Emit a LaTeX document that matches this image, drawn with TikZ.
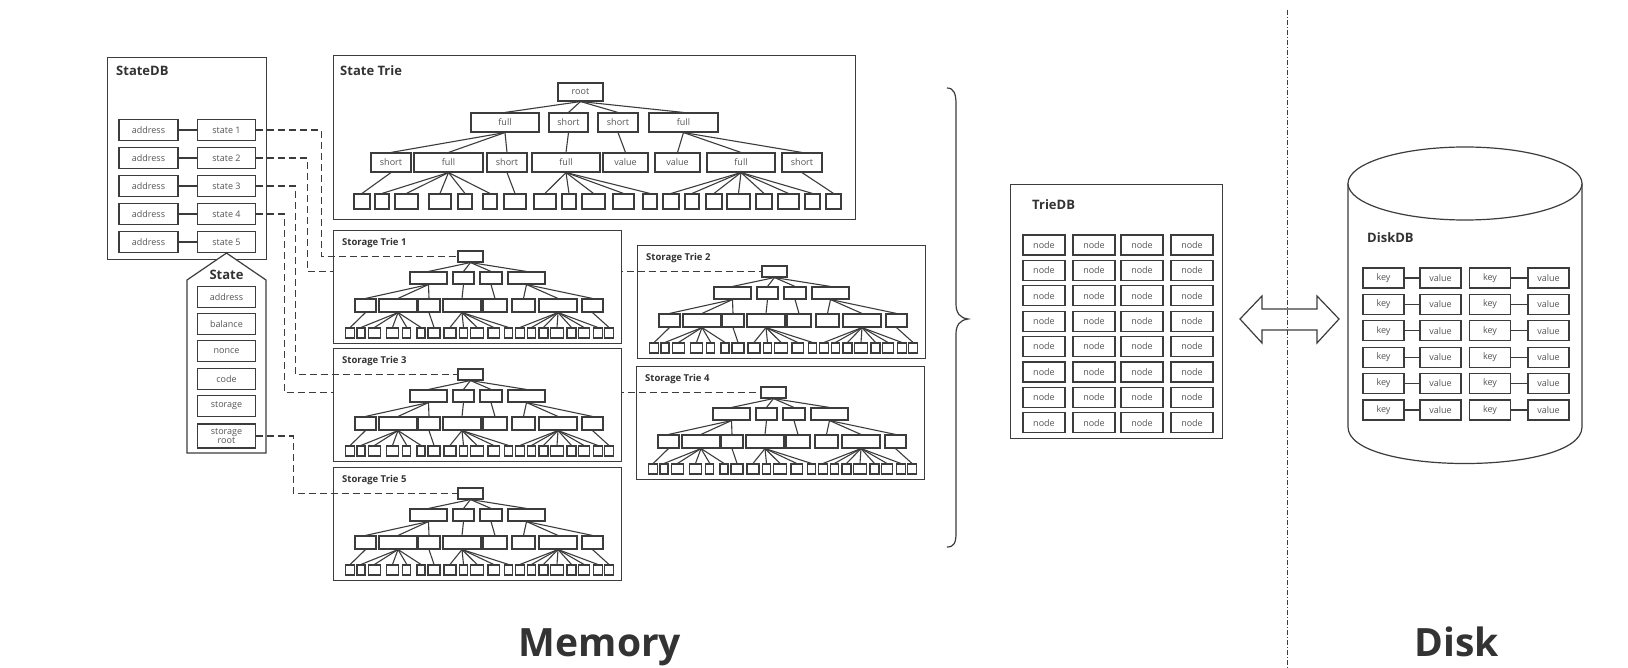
\documentclass[tikz,border=0pt]{standalone}
\usepackage{fontspec}
\setmainfont{Open Sans}
\definecolor{lc}{HTML}{3C3C3C}
\definecolor{tc}{HTML}{555555}
\definecolor{hc}{HTML}{333333}
\tikzset{
 frame/.style={draw=lc, line width=1.2pt, fill=white, inner sep=0pt},
 outline/.style={draw=lc, line width=1.2pt},
 box/.style={draw=lc, line width=1.1pt, fill=white, inner sep=0pt, text=tc, font=\fontsize{9}{9.5}\selectfont, minimum height=20pt},
 tn/.style={draw=lc, line width=1.1pt, fill=white, inner sep=0pt},
 edge/.style={draw=lc, line width=1.1pt},
 dsh/.style={draw=lc, line width=1.1pt, dash pattern=on 7pt off 4pt},
 ttl/.style={text=hc, font=\bfseries\fontsize{13}{14}\selectfont, anchor=west, inner sep=0pt},
 sttl/.style={text=hc, font=\bfseries\fontsize{9.5}{10}\selectfont, anchor=west, inner sep=0pt},
 big/.style={text=hc, font=\bfseries\fontsize{39}{42}\selectfont, anchor=base, inner sep=0pt},
}
\newcommand\strie[4]{%
\begin{scope}[shift={(#2,#3)}]
\node[frame, minimum width=288pt, minimum height=113pt, anchor=north west] (#1) at (0,0) {};
\node[sttl] at (9,13) {#4};
\node[tn, minimum width=25pt, minimum height=11pt] (#1r) at (137.5,26.5) {};
\foreach \i/\c/\w in {1/95.5/37,2/130.5/21,3/158/22,4/193.5/37}
  \node[tn, minimum width=\w pt, minimum height=12pt] (#1a\i) at (\c,48) {};
\foreach \i/\c/\w in {1/32.5/21,2/65/38,3/96/22,4/129/38,5/162/24,6/190.5/23,7/225/38,8/259.5/21}
  \node[tn, minimum width=\w pt, minimum height=13pt] (#1b\i) at (\c,75.5) {};
\foreach \i/\c/\w in {1/17.2/9,2/28/8,3/41.5/12.5,4/59.5/12,5/73.8/8,6/88/8,7/101/12,8/117/12,9/130.5/8,10/144/12.5,11/160.7/11.5,12/175.5/8,13/187/9,14/198.5/8,15/210.5/9,16/224/12.5,17/238.5/9,18/251/11.5,19/264.8/8.5,20/276/8.5}
  \node[tn, minimum width=\w pt, minimum height=10pt] (#1l\i) at (\c,103) {};
\foreach \i in {1,...,4} \draw[edge] (#1r.south) -- (#1a\i.north);
\foreach \p/\cs in {1/{1,2,3},2/{4},3/{5},4/{6,7,8}}
  \foreach \c in \cs \draw[edge] (#1a\p.south) -- (#1b\c.north);
\foreach \p/\cs in {1/{1},2/{2,3,4,5,6},3/{7},4/{8,9,10,11,12},7/{13,14,15,16,17,18,19},8/{20}}
  \foreach \c in \cs \draw[edge] (#1b\p.south) -- (#1l\c.north);
\end{scope}}
\begin{document}
\begin{tikzpicture}[x=1pt,y=-1pt]
\fill[white] (0,0) rectangle (1628,668);
\useasboundingbox (0,0) rectangle (1628,668);

% ---------- StateDB ----------
\node[frame, minimum width=159pt, minimum height=202pt, anchor=north west] (sdb) at (107,57) {};
\node[ttl] at (116,71) {StateDB};
\foreach \i in {1,...,5} {
  \node[box, minimum width=59pt, minimum height=21pt] (ad\i) at (148.5,{130+28*(\i-1)}) {address};
  \node[box, minimum width=58pt, minimum height=21pt] (s\i) at (226.5,{130+28*(\i-1)}) {state \i};
  \draw[edge] (ad\i) -- (s\i);
}

% ---------- State ----------
\draw[frame] (187,453) -- (187,280) -- (s5.south) -- (266,280) -- (266,453) -- cycle;
\node[ttl, anchor=center] (stl) at (226.5,275) {State};
\foreach \i/\y/\t in {1/297/address,2/324/balance,3/351/nonce,4/379/code,5/406/storage}
  \node[box, minimum width=58pt, minimum height=21pt] (f\i) at (226.5,\y) {\t};
\node[box, minimum width=58pt, minimum height=24pt, align=center, font=\fontsize{9}{9.5}\selectfont] (sroot) at (226.5,436) {storage\\root};

% ---------- State Trie ----------
\node[frame, minimum width=522pt, minimum height=164pt, anchor=north west] (stt) at (333,55) {};
\node[ttl] at (340,71) {State Trie};
\node[box, minimum width=45pt, minimum height=18pt] (r) at (580.5,92) {root};
\foreach \i/\c/\w/\t in {1/505/68/full,2/568.5/39/short,3/618/40/short,4/683.5/69/full}
  \node[box, minimum width=\w pt, minimum height=19pt] (a\i) at (\c,122.5) {\t};
\foreach \i/\c/\w/\t in {1/391/40/short,2/448.5/69/full,3/507/40/short,4/566/68/full,5/625.5/45/value,6/677.5/45/value,7/741/68/full,8/802/40/short}
  \node[box, minimum width=\w pt, minimum height=19pt] (b\i) at (\c,162.5) {\t};
\foreach \i/\c/\w in {1/362/16,2/382/14,3/406.5/23,4/440/22,5/465/14,6/490/14,7/515/22,8/545/22,9/569/14,10/593.5/23,11/623.5/21,12/650/14,13/671/16,14/692/14,15/714/16,16/738.5/23,17/764/16,18/788.5/21,19/812.5/15,20/833.5/15}
  \node[tn, minimum width=\w pt, minimum height=15pt] (l\i) at (\c,201.5) {};
\foreach \i in {1,...,4} \draw[edge] (r.south) -- (a\i.north);
\foreach \p/\cs in {1/{1,2,3},2/{4},3/{5},4/{6,7,8}}
  \foreach \c in \cs \draw[edge] (a\p.south) -- (b\c.north);
\foreach \p/\cs in {1/{1},2/{2,3,4,5,6},3/{7},4/{8,9,10,11,12},7/{13,14,15,16,17,18,19},8/{20}}
  \foreach \c in \cs \draw[edge] (b\p.south) -- (l\c.north);

% ---------- Storage tries ----------
\strie{stb}{637}{245}{Storage Trie 2}
\strie{std}{636}{366}{Storage Trie 4}
\draw[dsh] (s2.east) -- ++(51,0) |- (stbr.west);
\draw[dsh] (s4.east) -- ++(28,0) |- (stdr.west);
\strie{sta}{333}{230}{Storage Trie 1}
\strie{stc}{333}{348}{Storage Trie 3}
\strie{ste}{333}{467}{Storage Trie 5}
\draw[dsh] (s1.east) -- ++(65,0) |- (star.west);
\draw[dsh] (s3.east) -- ++(39,0) |- (stcr.west);
\draw[dsh] (sroot.east) -- ++(37,0) |- (ster.west);

% ---------- brace ----------
\draw[outline] (947,88) .. controls (954,88) and (956,94) .. (956,104) -- (956,304)
  .. controls (956,313) and (960,318) .. (968,319) .. controls (960,320) and (956,325) .. (956,334)
  -- (956,533) .. controls (956,543) and (954,547) .. (947,547);

% ---------- TrieDB ----------
\node[frame, minimum width=212pt, minimum height=254pt, anchor=north west] (tdb) at (1010,184) {};
\node[ttl] at (1032,205) {TrieDB};
\foreach \j/\x in {1/1044,2/1094,3/1142,4/1192}
  \foreach \i in {0,...,7}
    \node[box, minimum width=42pt, minimum height=20pt] (n\j\i) at (\x,{245+25.4*\i}) {node};

% ---------- divider and arrow ----------
\draw[draw=lc, line width=0.8pt, dash pattern=on 5pt off 2pt on 1pt off 2pt] (1287,10) -- (1287,668);
\draw[outline] (1240,319) -- (1262,296) -- (1262,309) -- (1317,309) -- (1317,296) -- (1339,319)
  -- (1317,343) -- (1317,330) -- (1262,330) -- (1262,343) -- cycle;

% ---------- DiskDB ----------
\draw[frame] (1348,183.5) -- (1348,427) .. controls (1348,475.7) and (1582,475.7) .. (1582,427) -- (1582,183.5);
\draw[frame] (1465,183.5) ellipse [x radius=117pt, y radius=36.5pt];
\node[ttl] at (1367,238) {DiskDB};
\foreach \i in {0,...,5} {
  \node[box, minimum width=41pt, minimum height=20pt] (ka\i) at (1383.5,{278+26.4*\i}) {key};
  \node[box, minimum width=41pt, minimum height=20pt] (va\i) at (1440.5,{278+26.4*\i}) {value};
  \node[box, minimum width=41pt, minimum height=20pt] (kb\i) at (1490,{278+26.4*\i}) {key};
  \node[box, minimum width=41pt, minimum height=20pt] (vb\i) at (1548.5,{278+26.4*\i}) {value};
  \draw[edge] (ka\i) -- (va\i);
  \draw[edge] (kb\i) -- (vb\i);
}

% ---------- labels ----------
\node[big] (mem) at (600,656) {Memory};
\node[big] (dsk) at (1457,656) {Disk};
\end{tikzpicture}
\end{document}
